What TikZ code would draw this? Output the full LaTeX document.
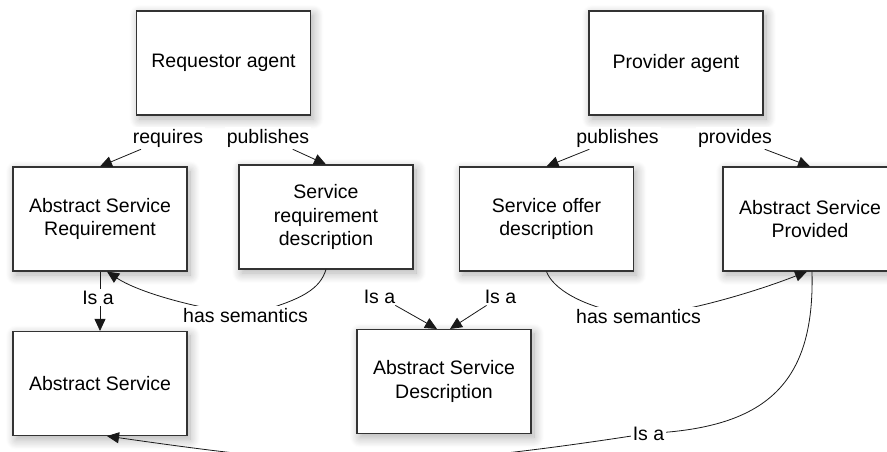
\documentclass[tikz,border=0pt]{standalone}
\usepackage{fontspec}
\setmainfont{Liberation Sans}
\usetikzlibrary{arrows.meta,shadows.blur}
\newcommand{\dfont}{\fontsize{19.5}{23.5}\selectfont}
\pgfdeclarelayer{front}
\pgfsetlayers{main,front}
\begin{document}
\begin{tikzpicture}[x=1pt,y=-1pt,
  box/.style={draw=black!80, line width=1.1pt, fill=white, minimum width=174pt,
    minimum height=104pt, align=center, inner sep=0pt, font=\dfont,
    blur shadow={shadow xshift=3pt, shadow yshift=-4pt, shadow blur radius=10pt,
      shadow opacity=32, shadow blur steps=12}},
  lbl/.style={fill=white, inner sep=2pt, font=\dfont},
  conn/.style={draw=black!90, line width=0.8pt},
  arr/.style={conn, -{Triangle[length=12pt,width=11pt]}}
]
\useasboundingbox (0,0) rectangle (887,452);

% boxes
\node[box] (ra)  at (223.5,63)  {Requestor agent};
\node[box] (pa)  at (676,63)    {Provider agent};
\node[box] (asr) at (100,219)   {Abstract Service\\Requirement};
\node[box] (srd) at (326,217)   {Service\\requirement\\description};
\node[box] (sod) at (546.5,219) {Service offer\\description};
\node[box] (asp) at (810,219)   {Abstract Service\\Provided};
\node[box] (as)  at (100,383.5) {Abstract Service};
\node[box] (asd) at (444,381.5) {Abstract Service\\Description};

% labels
\begin{pgfonlayer}{front}
\node[lbl, anchor=base] (lreq)  at (168,143)   {requires};
\node[lbl, anchor=base] (lpubL) at (268,143)   {publishes};
\node[lbl, anchor=base] (lpubR) at (617.5,143) {publishes};
\node[lbl, anchor=base] (lprov) at (735,143)   {provides};
\node[lbl, anchor=base] (lisa1) at (98,304)    {Is a};
\node[lbl, anchor=base] (lhs1)  at (245.5,322) {has semantics};
\node[lbl, anchor=base] (lisa2) at (379.5,303) {Is a};
\node[lbl, anchor=base] (lisa3) at (500.5,303) {Is a};
\node[lbl, anchor=base] (lhs2)  at (638.5,323) {has semantics};
\node[lbl, anchor=base] (lisa4) at (648.5,440) {Is a};
\end{pgfonlayer}

% connectors
\draw[arr] (lreq) -- (asr.north);
\draw[arr] (lpubL) -- (srd.north);
\draw[arr] (lpubR) -- (sod.north);
\draw[arr] (lprov) -- (asp.north);
\draw[arr] (asr.south) -- (as.north);
\draw[arr] (srd.south) .. controls (320,288) and (305,300) .. (lhs1.center)
  .. controls (180,305) and (135,290) .. ([xshift=7pt]asr.south);
\draw[arr] (lisa2) -- ([xshift=-7pt]asd.north);
\draw[arr] (lisa3) -- ([xshift=6pt]asd.north);
\draw[arr] (sod.south) .. controls (552,287) and (580,308) .. (lhs2.center)
  .. controls (690,312) and (760,290) .. ([xshift=-3pt]asp.south);
\draw[arr] ([xshift=2pt]asp.south) .. controls (815,385) and (765,428) .. (lisa4.center)
  .. controls (400,472) and (330,468) .. ([xshift=7pt]as.south);
\end{tikzpicture}
\end{document}
